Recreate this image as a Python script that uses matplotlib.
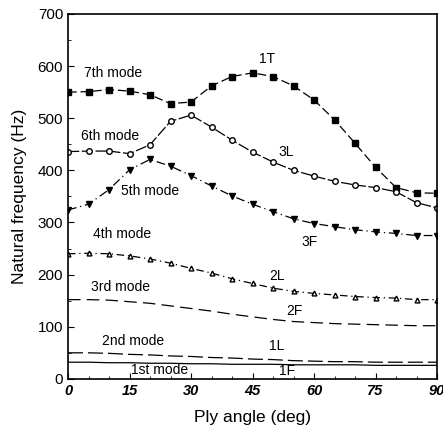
import matplotlib.pyplot as plt
from matplotlib.ticker import MultipleLocator

plt.rcParams['font.family'] = ['Liberation Sans', 'DejaVu Sans']

angle = list(range(0, 91, 5))

mode7 = [550, 551, 555, 552, 545, 528, 531, 562, 580, 587, 580, 562, 535, 497, 452, 406, 367, 357, 356]
mode6 = [436, 437, 437, 432, 449, 494, 506, 483, 458, 435, 416, 400, 389, 379, 372, 367, 359, 338, 328]
mode5 = [324, 335, 363, 401, 421, 408, 390, 370, 351, 335, 321, 307, 298, 292, 286, 282, 279, 275, 275]
mode4 = [240, 241, 240, 236, 230, 222, 212, 203, 192, 183, 174, 168, 164, 161, 158, 156, 155, 152, 152]
mode3 = [152, 152, 151, 148, 145, 140, 135, 130, 124, 119, 114, 110, 108, 106, 105, 104, 103, 102, 102]
mode2 = [50, 50, 49, 47, 46, 44, 43, 41, 40, 38, 37, 35, 34, 33, 33, 32, 32, 32, 32]
mode1 = [32, 32, 31, 31, 30, 30, 29, 29, 28, 28, 28, 27, 27, 27, 27, 26, 26, 26, 26]

labels = [
    ('7th mode', 11.0, 586), ('1T', 48.5, 613),
    ('6th mode', 10.2, 465), ('3L', 53.2, 435),
    ('5th mode', 20.0, 360), ('3F', 59.0, 263),
    ('4th mode', 13.2, 277), ('2L', 51.0, 198),
    ('3rd mode', 12.7, 177), ('2F', 55.3, 130),
    ('2nd mode', 15.9, 73), ('1L', 51.0, 63),
    ('1st mode', 22.4, 17), ('1F', 53.4, 15),
]

fig = plt.figure(figsize=(4.43, 4.36), dpi=100)
ax = fig.add_axes([0.1535, 0.131, 0.833, 0.837])

k = dict(color='black', lw=0.9)
ax.plot(angle, mode7, ls=(0, (7, 3)), marker='s', ms=4, mfc='black', **k)
ax.plot(angle, mode6, ls=(0, (9, 2)), marker='o', ms=4, mfc='white', **k)
ax.plot(angle, mode5, ls=(0, (7, 3, 1, 3)), marker='v', ms=4, mfc='black', **k)
ax.plot(angle, mode4, ls=(0, (6, 3, 1, 3)), marker='^', ms=3.5, mfc='white', **k)
ax.plot(angle, mode3, ls=(0, (10, 5)), **k)
ax.plot(angle, mode2, ls=(0, (12, 4)), **k)
ax.plot(angle, mode1, ls='-', **k)

for txt, x, y in labels:
    ax.text(x, y, txt, ha='center', va='center', fontsize=10)

ax.set_xlim(0, 90)
ax.set_ylim(0, 700)
ax.xaxis.set_major_locator(MultipleLocator(15))
ax.xaxis.set_minor_locator(MultipleLocator(5))
ax.yaxis.set_major_locator(MultipleLocator(100))
ax.yaxis.set_minor_locator(MultipleLocator(50))
ax.tick_params(which='both', direction='in', top=False, right=False)
ax.tick_params(which='major', length=4)
ax.tick_params(which='minor', length=2.5)
for lab in ax.get_xticklabels():
    lab.set_fontstyle('italic')
    lab.set_fontweight('bold')
    lab.set_fontsize(10.5)
for lab in ax.get_yticklabels():
    lab.set_fontsize(11)
for s in ax.spines.values():
    s.set_linewidth(1.2)

ax.set_xlabel('Ply angle (deg)', fontsize=12.5, labelpad=9)
ax.set_ylabel('Natural frequency (Hz)', fontsize=12.5, labelpad=8)

fig.savefig('out.png', dpi=100)
